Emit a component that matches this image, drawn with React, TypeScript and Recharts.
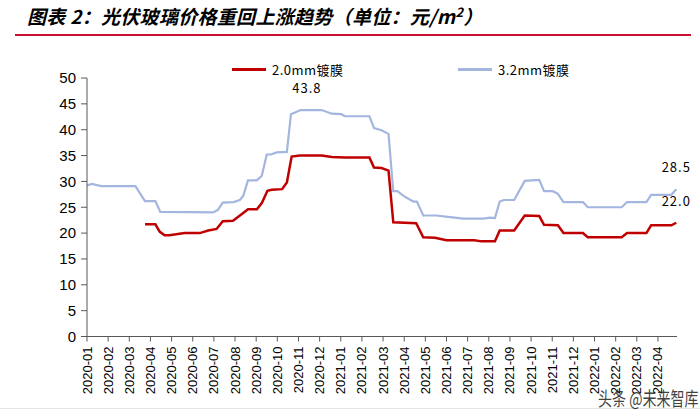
import { LineChart, Line, XAxis, YAxis } from 'recharts'

// month labels on the x axis
const months = [
    '2020-01', '2020-02', '2020-03', '2020-04', '2020-05', '2020-06', '2020-07',
    '2020-08', '2020-09', '2020-10', '2020-11', '2020-12', '2021-01', '2021-02',
    '2021-03', '2021-04', '2021-05', '2021-06', '2021-07', '2021-08', '2021-09',
    '2021-10', '2021-11', '2021-12', '2022-01', '2022-02', '2022-03', '2022-04',
]

const yTicks = [0, 5, 10, 15, 20, 25, 30, 35, 40, 45, 50]

// 3.2mm coated glass, yuan/m2
const dates32 = [
    '2020-01-01', '2020-01-08', '2020-01-22', '2020-03-10', '2020-03-24', '2020-04-08',
    '2020-04-15', '2020-06-30', '2020-07-07', '2020-07-14', '2020-07-30', '2020-08-08',
    '2020-08-13', '2020-08-20', '2020-09-02', '2020-09-09', '2020-09-16', '2020-09-22',
    '2020-09-30', '2020-10-15', '2020-10-21', '2020-11-04', '2020-11-13', '2020-12-04',
    '2020-12-19', '2021-01-02', '2021-01-07', '2021-02-11', '2021-02-17', '2021-02-27',
    '2021-03-09', '2021-03-16', '2021-03-22', '2021-04-01', '2021-04-14', '2021-04-19',
    '2021-04-28', '2021-05-17', '2021-06-06', '2021-06-25', '2021-07-24', '2021-08-03',
    '2021-08-10', '2021-08-17', '2021-08-23', '2021-09-07', '2021-09-22', '2021-10-02',
    '2021-10-13', '2021-10-20', '2021-11-02', '2021-11-09', '2021-11-17', '2021-12-15',
    '2021-12-22', '2022-02-09', '2022-02-16', '2022-03-15', '2022-03-22', '2022-04-20',
    '2022-04-27',
]
const price32 = [
    29.2, 29.5, 29.1, 29.1, 26.2, 26.2,
    24.1, 24.0, 24.5, 25.9, 26.0, 26.4,
    27.2, 30.2, 30.2, 31.1, 35.2, 35.2,
    35.6, 35.7, 43.0, 43.8, 43.8, 43.8,
    43.1, 43.0, 42.6, 42.6, 40.3, 39.9,
    39.2, 28.1, 28.1, 27.1, 26.1, 26.1,
    23.4, 23.4, 23.1, 22.8, 22.8, 23.0,
    22.9, 26.1, 26.4, 26.4, 30.1, 30.2,
    30.3, 28.1, 28.1, 27.6, 26.0, 26.0,
    25.0, 25.0, 26.0, 26.0, 27.4, 27.4,
    28.5,
]

// 2.0mm coated glass, yuan/m2
const dates20 = [
    '2020-03-24', '2020-04-08', '2020-04-14', '2020-04-21', '2020-04-28', '2020-05-20',
    '2020-06-11', '2020-06-23', '2020-07-05', '2020-07-14', '2020-07-29', '2020-08-13',
    '2020-08-20', '2020-09-02', '2020-09-09', '2020-09-17', '2020-09-23', '2020-10-08',
    '2020-10-15', '2020-10-22', '2020-11-03', '2020-12-04', '2020-12-19', '2021-01-07',
    '2021-02-11', '2021-02-17', '2021-02-27', '2021-03-09', '2021-03-16', '2021-04-18',
    '2021-04-28', '2021-05-15', '2021-06-01', '2021-07-11', '2021-07-21', '2021-08-10',
    '2021-08-17', '2021-09-07', '2021-09-22', '2021-10-13', '2021-10-20', '2021-11-09',
    '2021-11-17', '2021-12-15', '2021-12-22', '2022-02-09', '2022-02-16', '2022-03-15',
    '2022-03-22', '2022-04-20', '2022-04-27',
]
const price20 = [
    21.7, 21.7, 20.3, 19.6, 19.6, 20.0,
    20.0, 20.5, 20.8, 22.3, 22.4, 23.9,
    24.6, 24.6, 25.8, 28.2, 28.4, 28.5,
    29.8, 34.8, 35.0, 35.0, 34.7, 34.6,
    34.6, 32.7, 32.6, 32.1, 22.1, 21.9,
    19.2, 19.1, 18.6, 18.6, 18.4, 18.4,
    20.5, 20.5, 23.4, 23.3, 21.6, 21.5,
    20.0, 20.0, 19.2, 19.2, 20.0, 20.0,
    21.5, 21.5, 22.0,
]

// points that carry a value label
const labelled32 = ['2020-11-13', '2022-04-27']
const labelled20 = ['2022-04-27']

// fractional month offset from 2020-01
function monthPos(d: string): number {
    const [y, m, dd] = d.split('-').map(Number)
    const days = new Date(y, m, 0).getDate()
    return (y - 2020) * 12 + (m - 1) + (dd - 1) / days
}

const rows32 = dates32.map((d, i) => ({ x: monthPos(d), v: price32[i], d }))
const rows20 = dates20.map((d, i) => ({ x: monthPos(d), v: price20[i], d }))

const RED = '#C00000'
const BLUE = '#A3B6E0'
const AXIS = '#595959'
const CJK = '"Noto Sans CJK SC", "Liberation Sans", sans-serif'

function makeLabel(dates: string[], list: string[]) {
    return (props: any) => {
        const { x, y, index, value } = props
        if (!list.includes(dates[index])) { return null }
        return (
            <text x={x} y={y - 17} textAnchor="middle" fontSize={13}
                fontFamily={CJK} fill="#000" letterSpacing={1}>
                {Number(value).toFixed(1)}
            </text>
        )
    }
}

function MonthTick(props: any) {
    const { x, y, payload } = props
    return (
        <text transform={`translate(${x + 4.5},${y + 3}) rotate(-90)`}
            textAnchor="end" fontSize={13} fontFamily="Liberation Sans, Arial"
            fill="#000">
            {months[payload.value]}
        </text>
    )
}

function TopLegend() {
    const item = (color: string, text: string, w: number) => (
        <div style={{ display: 'flex', alignItems: 'center', width: w }}>
            <span style={{ display: 'inline-block', width: 34, height: 2.5, background: color }} />
            <span style={{ marginLeft: 6, fontSize: 13, fontFamily: CJK, color: '#000', letterSpacing: 0.5 }}>
                {text}
            </span>
        </div>
    )
    return (
        <div style={{ position: 'absolute', top: 60, left: 0, display: 'flex', paddingLeft: 232 }}>
            {item(RED, '2.0mm镀膜', 226)}
            {item(BLUE, '3.2mm镀膜', 140)}
        </div>
    )
}

export default function App() {
    return (
        <div style={{ position: 'absolute', left: 0, top: 0, width: 700, height: 417, background: '#fff', overflow: 'hidden' }}>
            <div style={{
                position: 'absolute', left: 27, top: 2, fontSize: 19, fontWeight: 700,
                fontStyle: 'italic', fontFamily: CJK, color: '#000', whiteSpace: 'nowrap',
                letterSpacing: 0.3,
            }}>
                图表 2：光伏玻璃价格重回上涨趋势（单位：元/m<sup style={{ fontSize: 13 }}>2</sup>）
            </div>
            <div style={{ position: 'absolute', left: 15, top: 34, width: 676, height: 2, background: '#C8102E' }} />
            <LineChart width={700} height={417} margin={{ top: 78, right: 23, bottom: 0, left: 0 }}>
                <XAxis
                    type="number"
                    dataKey="x"
                    domain={[0, 27.9]}
                    ticks={months.map((_, i) => i)}
                    interval={0}
                    tick={<MonthTick />}
                    height={80.5}
                    stroke={AXIS}
                    tickSize={5}
                    allowDuplicatedCategory={false}
                />
                <YAxis
                    domain={[0, 50]}
                    ticks={yTicks}
                    interval={0}
                    width={87}
                    stroke={AXIS}
                    tickSize={6}
                    tick={{ fontSize: 15, fill: '#000', fontFamily: 'Liberation Sans, Arial', dx: -3 }}
                />
                <Line
                    data={rows20}
                    dataKey="v"
                    name="2.0mm镀膜"
                    stroke={RED}
                    strokeWidth={2.5}
                    dot={false}
                    isAnimationActive={false}
                    label={makeLabel(dates20, labelled20)}
                />
                <Line
                    data={rows32}
                    dataKey="v"
                    name="3.2mm镀膜"
                    stroke={BLUE}
                    strokeWidth={2.2}
                    dot={false}
                    isAnimationActive={false}
                    label={makeLabel(dates32, labelled32)}
                />
            </LineChart>
            <TopLegend />
            <div style={{ position: 'absolute', left: 0, top: 408, width: 700, height: 1, background: '#e6e6e6' }} />
            <div style={{
                position: 'absolute', left: 598, top: 384, fontSize: 14, fontFamily: CJK,
                color: '#222', opacity: 0.85, whiteSpace: 'nowrap',
                transform: 'scale(1, 1.35)', transformOrigin: 'left top',
            }}>
                头条 @未来智库
            </div>
        </div>
    )
}
